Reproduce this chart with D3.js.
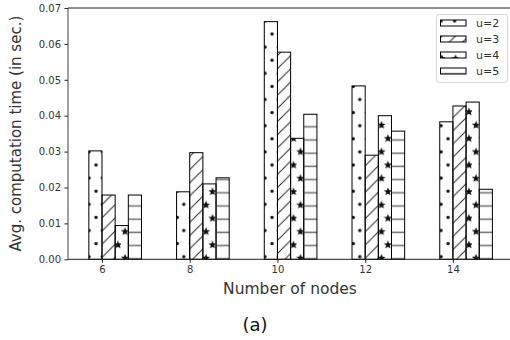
<!DOCTYPE html>
<html><head><meta charset="utf-8">
<script src="https://cdn.jsdelivr.net/npm/d3@7"></script>
<style>body{margin:0;background:#fff}svg{display:block}text{font-family:"DejaVu Sans",sans-serif}</style>
</head><body>
<svg id="c" width="510" height="340"></svg>
<script>
const categories = [6, 8, 10, 12, 14];
const seriesNames = ["u=2", "u=3", "u=4", "u=5"];
const u2 = [0.0302, 0.0188, 0.0662, 0.0483, 0.0383];
const u3 = [0.0179, 0.0297, 0.0577, 0.0290, 0.0427];
const u4 = [0.0094, 0.0210, 0.0337, 0.0400, 0.0438];
const u5 = [0.0179, 0.0227, 0.0404, 0.0357, 0.0195];
const seriesValues = [u2, u3, u4, u5];
const yTicks = [0.00, 0.01, 0.02, 0.03, 0.04, 0.05, 0.06, 0.07];
const xLabel = "Number of nodes";
const yLabel = "Avg. computation time (in sec.)";
const caption = "(a)";

const svg = d3.select("#c");
const L = 68, R = 513, T = 8, B = 259.3;
const x = d3.scaleLinear().domain([5.225, 15.37]).range([L, R]);
const y = d3.scaleLinear().domain([0, 0.07]).range([B, T]);
const barW = 0.3;

// patterns
const defs = svg.append("defs");
const pd = defs.append("pattern").attr("id", "p0").attr("patternUnits", "userSpaceOnUse")
  .attr("x", 86).attr("y", 149).attr("width", 13.54).attr("height", 26.2);
pd.append("circle").attr("cx", 3).attr("cy", 3).attr("r", 1.7).attr("fill", "#111");
pd.append("circle").attr("cx", 10).attr("cy", 16.1).attr("r", 1.7).attr("fill", "#111");

const ph = 13.2;
const pdiag = defs.append("pattern").attr("id", "p1").attr("patternUnits", "userSpaceOnUse")
  .attr("x", 0).attr("y", 3).attr("width", ph).attr("height", ph);
pdiag.append("path").attr("d", `M0,${ph} L${ph},0 M${-ph/2},${ph/2} L${ph/2},${-ph/2} M${ph/2},${ph*1.5} L${ph*1.5},${ph/2}`)
  .attr("stroke", "#222").attr("stroke-width", 1);

const ps = defs.append("pattern").attr("id", "p2").attr("patternUnits", "userSpaceOnUse")
  .attr("x", 202).attr("y", 188).attr("width", 13.5).attr("height", 26.6);
function star(cx, cy, ro, ri) {
  const pts = [];
  for (let i = 0; i < 10; i++) {
    const a = -Math.PI / 2 + i * Math.PI / 5;
    const r = i % 2 ? ri : ro;
    pts.push([cx + r * Math.cos(a), cy + r * Math.sin(a)]);
  }
  return "M" + pts.map(p => p.join(",")).join("L") + "Z";
}
ps.append("path").attr("d", star(4, 17, 4.4, 1.9)).attr("fill", "#111");
ps.append("path").attr("d", star(10.5, 3.7, 4.4, 1.9)).attr("fill", "#111");
ps.append("path").attr("d", star(10.5, 30.3, 4.4, 1.9)).attr("fill", "#111");

const pl = defs.append("pattern").attr("id", "p3").attr("patternUnits", "userSpaceOnUse")
  .attr("x", 0).attr("y", 2).attr("width", 20).attr("height", 13.2);
pl.append("line").attr("x1", 0).attr("x2", 20).attr("y1", 6).attr("y2", 6)
  .attr("stroke", "#777").attr("stroke-width", 1.6);

// bars
const g = svg.append("g");
seriesValues.forEach((vals, si) => {
  g.selectAll(null).data(vals.map((v, i) => ({ c: categories[i], v })))
    .enter().append("rect")
    .attr("x", d => x(d.c + (si - 1) * barW))
    .attr("width", d => x(d.c + si * barW) - x(d.c + (si - 1) * barW))
    .attr("y", d => y(d.v))
    .attr("height", d => y(0) - y(d.v))
    .attr("fill", `url(#p${si})`)
    .attr("stroke", "#000").attr("stroke-width", 1);
});

// axes
const xAxis = d3.axisBottom(x).tickValues(categories).tickSize(3.5).tickPadding(3.5).tickFormat(d3.format("d"));
const yAxis = d3.axisLeft(y).tickValues(yTicks).tickSize(3.5).tickPadding(3.5).tickFormat(d3.format(".2f"));
const gx = svg.append("g").attr("transform", `translate(0,${B})`).call(xAxis);
const gy = svg.append("g").attr("transform", `translate(${L},0)`).call(yAxis);
[gx, gy].forEach(a => {
  a.select(".domain").remove();
  a.selectAll("text").attr("font-size", 10).attr("fill", "#333").attr("font-family", "DejaVu Sans");
  a.selectAll("line").attr("stroke", "#222");
});
// spines
svg.append("line").attr("x1", L).attr("x2", R).attr("y1", B).attr("y2", B).attr("stroke", "#222");
svg.append("line").attr("x1", L).attr("x2", R).attr("y1", T).attr("y2", T).attr("stroke", "#222");
svg.append("line").attr("x1", L).attr("x2", L).attr("y1", T).attr("y2", B).attr("stroke", "#444");

// labels
svg.append("text").attr("x", 290).attr("y", 294).attr("text-anchor", "middle")
  .attr("font-size", 15.5).attr("fill", "#333").text(xLabel);
svg.append("text").attr("transform", `translate(21,${(T + B) / 2}) rotate(-90)`).attr("text-anchor", "middle")
  .attr("font-size", 15).attr("fill", "#333").text(yLabel);
svg.append("text").attr("x", 255).attr("y", 331).attr("text-anchor", "middle")
  .attr("font-family", "Liberation Serif").attr("font-size", 18).attr("fill", "#111").text(caption);

// legend
const lg = svg.append("g");
lg.append("rect").attr("x", 436.5).attr("y", 14.5).attr("width", 71).attr("height", 68).attr("rx", 3)
  .attr("fill", "#fff").attr("fill-opacity", 0.85).attr("stroke", "#d5d5d5");
seriesNames.forEach((n, i) => {
  const cy = 23 + i * 16;
  lg.append("rect").attr("x", 440.5).attr("y", cy - 3).attr("width", 25.5).attr("height", 6)
    .attr("fill", `url(#p${i})`).attr("stroke", "#000").attr("stroke-width", 1);
  lg.append("text").attr("x", 476).attr("y", cy + 4).attr("font-size", 11).attr("fill", "#333").text(n);
});
</script>
</body></html>
